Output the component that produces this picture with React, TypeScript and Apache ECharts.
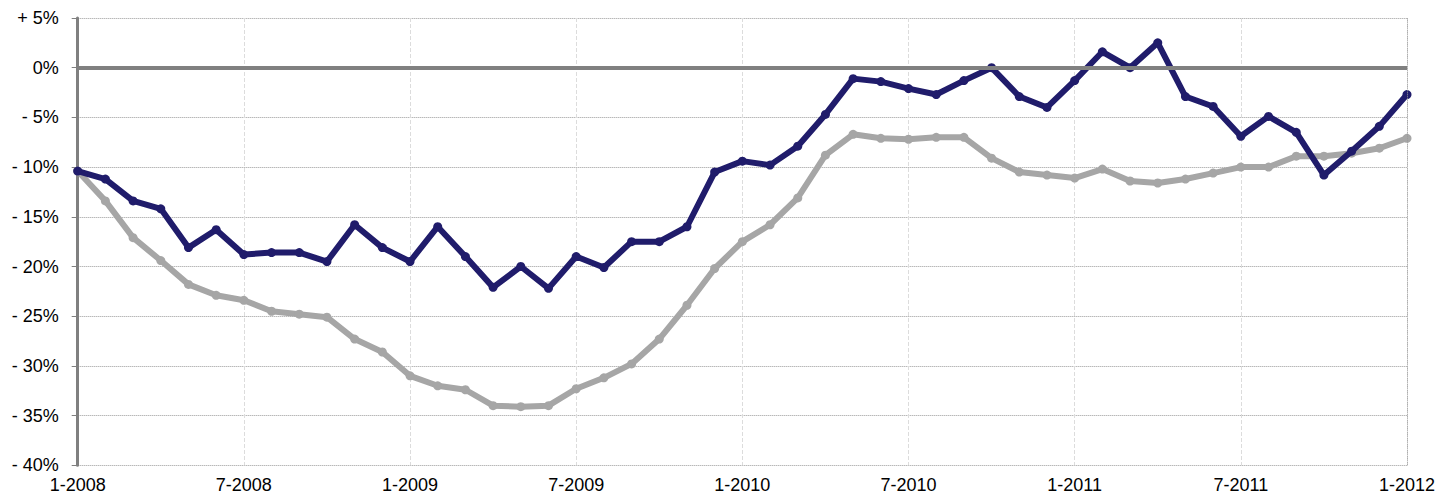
import React, { useEffect, useRef } from "react";
import * as echarts from "echarts";

const startYear = 2008;
const monthCount = 49;
const categories: string[] = Array.from({ length: monthCount }, (_, i) => {
  const m = (i % 12) + 1;
  const y = startYear + Math.floor(i / 12);
  return `${m}-${y}`;
});

const navySeries = [
  -10.4, -11.2, -13.4, -14.2, -18.1, -16.3, -18.8, -18.6, -18.6, -19.5, -15.8, -18.1,
  -19.5, -16.0, -19.0, -22.1, -20.0, -22.2, -19.0, -20.1, -17.5, -17.5, -16.0, -10.5,
  -9.4, -9.8, -7.9, -4.7, -1.1, -1.4, -2.1, -2.7, -1.3, 0.0, -2.9, -4.0,
  -1.3, 1.6, 0.0, 2.5, -2.9, -3.9, -6.9, -4.9, -6.5, -10.8, -8.4, -5.9, -2.7,
];

const graySeries = [
  -10.4, -13.4, -17.1, -19.4, -21.8, -22.9, -23.4, -24.5, -24.8, -25.1, -27.3, -28.6,
  -31.0, -32.0, -32.4, -34.0, -34.1, -34.0, -32.3, -31.2, -29.8, -27.3, -23.9, -20.2,
  -17.5, -15.8, -13.1, -8.8, -6.7, -7.1, -7.2, -7.0, -7.0, -9.1, -10.5, -10.8,
  -11.1, -10.2, -11.4, -11.6, -11.2, -10.6, -10.0, -10.0, -8.9, -8.9, -8.6, -8.1, -7.1,
];

const yMin = -40;
const yMax = 5;
const yStep = 5;

export default function App() {
  const ref = useRef<HTMLDivElement>(null);
  useEffect(() => {
    if (!ref.current) return;
    const chart = echarts.init(ref.current, undefined, { renderer: "svg" });
    const font = "'Liberation Sans', Arial, Helvetica, sans-serif";
    chart.setOption({
      animation: false,
      backgroundColor: "#ffffff",
      grid: { left: 77.7, right: 43, top: 18, bottom: 32.7, containLabel: false },
      xAxis: {
        type: "category",
        data: categories,
        boundaryGap: false,
        axisLine: { show: false },
        axisTick: { show: false },
        axisLabel: {
          interval: 5,
          margin: 11,
          color: "#000",
          fontSize: 18,
          fontFamily: font,
        },
        splitLine: {
          show: true,
          interval: (idx: number) => idx % 6 === 0,
          lineStyle: { color: "#dcdcdc", width: 1, type: [4, 2] },
        },
      },
      yAxis: {
        type: "value",
        min: yMin,
        max: yMax,
        interval: yStep,
        axisLine: { show: true, lineStyle: { color: "#808080", width: 3 } },
        axisTick: { show: true, length: 6, lineStyle: { color: "#808080", width: 1 } },
        axisLabel: {
          margin: 19,
          color: "#000",
          fontSize: 18,
          fontFamily: font,
          formatter: (v: number) => (v > 0 ? `+ ${v}%` : v === 0 ? "0%" : `- ${Math.abs(v)}%`),
        },
        splitLine: {
          show: true,
          lineStyle: { color: "#999", width: 1, type: "dotted" },
        },
      },
      series: [
        {
          type: "line",
          data: graySeries,
          symbol: "circle",
          symbolSize: 9,
          lineStyle: { color: "#a6a6a6", width: 6 },
          itemStyle: { color: "#a6a6a6" },
          z: 3,
          markLine: {
            silent: true,
            symbol: "none",
            label: { show: false },
            data: [
              { yAxis: 0, lineStyle: { color: "#808080", width: 4, type: "solid" } },
              {
                xAxis: categories[categories.length - 1],
                lineStyle: { color: "#999", width: 1, type: "dotted" },
              },
            ],
          },
        },
        {
          type: "line",
          data: navySeries,
          symbol: "circle",
          symbolSize: 9,
          lineStyle: { color: "#201c6b", width: 6 },
          itemStyle: { color: "#201c6b" },
          z: 4,
        },
      ],
    });
    return () => chart.dispose();
  }, []);
  return (
    <div
      ref={ref}
      style={{ position: "fixed", left: 0, top: 0, width: 1450, height: 498 }}
    />
  );
}
